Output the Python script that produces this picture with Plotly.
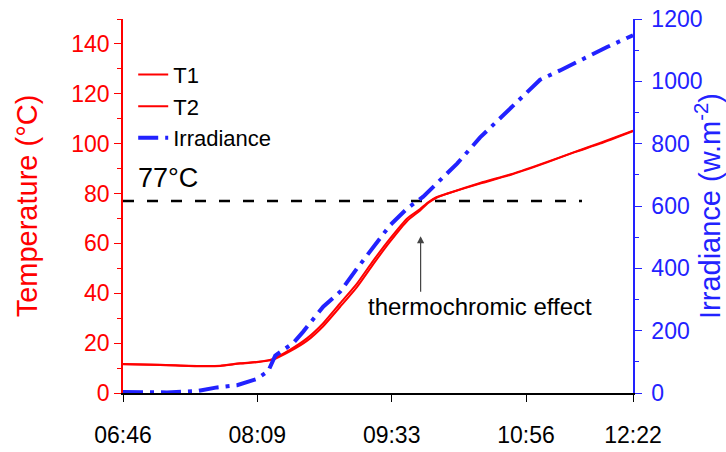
import plotly.graph_objects as go

# time in minutes after 06:46
t_min = [0, 23.3, 48.3, 60.8, 73.3, 84.6, 93.3, 104.6, 115.2, 125.2, 135.8, 146.4, 156.4,
         167.1, 177.7, 185.8, 190.8, 196.0, 202.7, 223.3, 243.9, 265.2, 282.1, 298.3, 318.9]
T1 = [11.6, 11.3, 10.8, 10.9, 11.9, 12.5, 13.6, 17.4, 22.0, 28.0, 36.0, 44.0, 53.0,
      62.0, 70.0, 73.8, 76.5, 78.5, 80.0, 84.0, 87.8, 92.5, 96.5, 100.0, 105.0]
T2 = [11.5, 11.2, 10.7, 10.8, 11.8, 12.4, 13.3, 16.8, 21.0, 26.8, 34.6, 42.6, 51.6,
      60.8, 69.0, 73.2, 76.2, 78.3, 79.9, 84.2, 88.0, 92.7, 96.6, 100.3, 105.2]

irr_t = [0, 27.5, 46.3, 58.8, 71.3, 83.6, 90.8, 95.2, 106.4, 112.7, 125.2, 135.8, 146.4,
         156.4, 167.1, 177.7, 187.7, 198.3, 208.9, 223.3, 242.1, 260.8, 273.3, 287.7, 302.7, 318.9]
irradiance = [3, 2, 6, 18, 25, 45, 70, 120, 160, 197, 277, 325, 400,
              469, 539, 592, 630, 683, 736, 820, 915, 1005, 1035, 1073, 1110, 1148]

threshold = 77
threshold_x = [0, 287]

tick_vals = [0, 84, 168, 252, 318.9]
tick_text = ["06:46", "08:09", "09:33", "10:56", "12:22"]

FONT = "Liberation Sans, Arial, sans-serif"

fig = go.Figure()
fig.add_trace(go.Scatter(x=t_min, y=T1, name="T1", mode="lines",
                         line=dict(color="#ff0000", width=2, shape="spline", smoothing=0.6),
                         yaxis="y"))
fig.add_trace(go.Scatter(x=t_min, y=T2, name="T2", mode="lines",
                         line=dict(color="#ff0000", width=2, shape="spline", smoothing=0.6),
                         yaxis="y"))
fig.add_trace(go.Scatter(x=irr_t, y=irradiance, name="Irradiance", mode="lines",
                         line=dict(color="#2222ff", width=4, dash="20px,7px,4px,7px"),
                         yaxis="y2"))
fig.add_trace(go.Scatter(x=threshold_x, y=[threshold, threshold], mode="lines",
                         showlegend=False, hoverinfo="skip",
                         line=dict(color="black", width=2.5, dash="11px,13px"), yaxis="y"))

fig.update_layout(
    width=726, height=452,
    margin=dict(l=123, r=93, t=19, b=59, autoexpand=False),
    paper_bgcolor="white", plot_bgcolor="white",
    font=dict(family=FONT, size=23, color="black"),
    showlegend=True,
    legend=dict(x=0.02, y=0.907, xanchor="left", yanchor="top",
                bgcolor="rgba(0,0,0,0)", font=dict(size=22), tracegroupgap=0),
    xaxis=dict(range=[0, 318.9], tickvals=tick_vals, ticktext=tick_text,
               automargin=False,
               showgrid=False, zeroline=False, showline=True, linecolor="black",
               linewidth=1.5, ticks="outside", ticklen=7, tickcolor="black",
               tickfont=dict(size=23, color="black"), ticklabelstandoff=14),
    xaxis2=dict(range=[0, 318.9], overlaying="x", side="top", anchor="y",
                automargin=False,
                tickvals=tick_vals[:4], showticklabels=False, showgrid=False,
                zeroline=False, showline=True, linecolor="black", linewidth=1.5,
                ticks="inside", ticklen=5, tickcolor="black"),
    yaxis=dict(range=[0, 150], dtick=20, tick0=0, showgrid=False, zeroline=False,
               automargin=False,
               showline=True, linecolor="#ff0000", linewidth=1.5,
               ticks="outside", ticklen=7, tickcolor="#ff0000", tickwidth=1.2,
               minor=dict(dtick=10, ticks="outside", ticklen=4, tickcolor="#ff0000"),
               tickfont=dict(size=23, color="#ff0000"),
               title=dict(text="Temperature (°C)", font=dict(size=29, color="#ff0000"),
                          standoff=25)),
    yaxis2=dict(range=[0, 1200], dtick=200, tick0=0, overlaying="y", side="right",
                anchor="x", showgrid=False, zeroline=False, showline=True,
                automargin=False,
                linecolor="#2222ff", linewidth=1.5, ticks="outside", ticklen=7,
                tickcolor="#2222ff", tickwidth=1.2,
                minor=dict(dtick=100, ticks="outside", ticklen=4, tickcolor="#2222ff"),
                tickfont=dict(size=23, color="#2222ff"), ticklabelstandoff=5,
                title=dict(text="Irradiance (w.m<sup>-2</sup>)",
                           font=dict(size=29, color="#2222ff"), standoff=3)),
    annotations=[
        dict(x=8.3, y=86.2, xref="x", yref="y", text="77°C", showarrow=False,
             xanchor="left", yanchor="middle", font=dict(size=27, color="black")),
        dict(x=152.1, y=34.5, xref="x", yref="y", text="thermochromic effect",
             showarrow=False, xanchor="left", yanchor="middle",
             font=dict(size=24, color="black")),
        dict(x=186.1, y=62.9, xref="x", yref="y", text="", showarrow=True,
             ax=0, ay=57, arrowhead=2, arrowsize=1.2, arrowwidth=1.2,
             arrowcolor="#444444"),
    ],
)

fig.write_html("out.html")
